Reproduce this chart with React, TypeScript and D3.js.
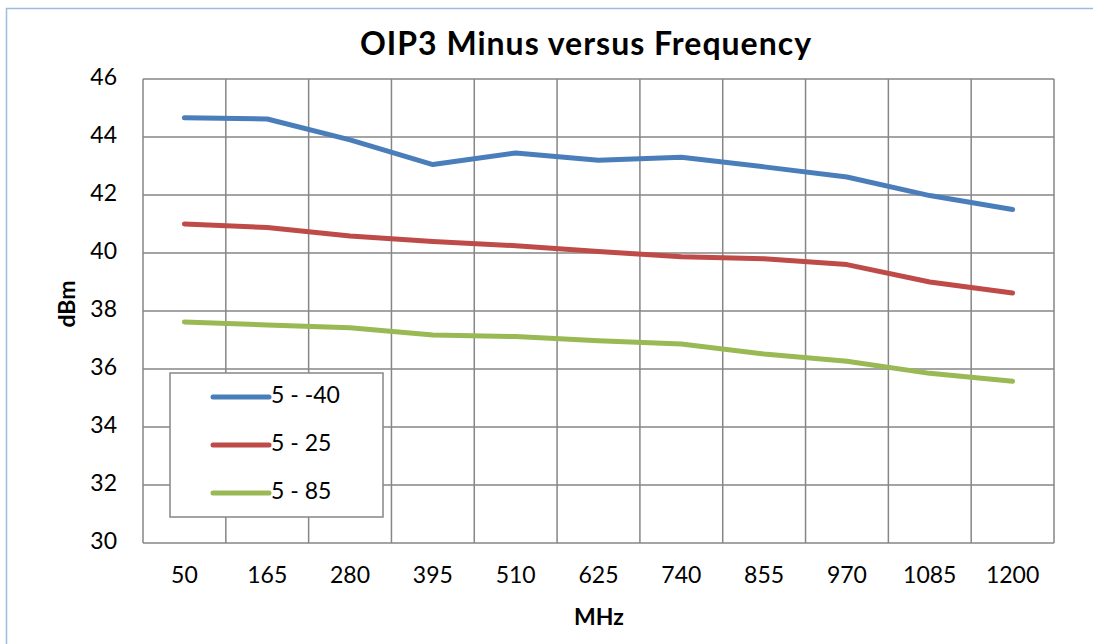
import { useRef, useEffect } from 'react'
import * as d3 from 'd3'

const categories = ['50', '165', '280', '395', '510', '625', '740', '855', '970', '1085', '1200']
const seriesNames = ['5 - -40', '5 - 25', '5 - 85']
const seriesColors = ['#4a7ebb', '#be4b48', '#98b954']
const blueValues = [44.66, 44.62, 43.9, 43.05, 43.45, 43.2, 43.3, 42.97, 42.62, 41.98, 41.5]
const redValues = [41.0, 40.88, 40.59, 40.4, 40.25, 40.05, 39.87, 39.8, 39.6, 39.0, 38.62]
const greenValues = [37.62, 37.52, 37.42, 37.17, 37.12, 36.97, 36.86, 36.52, 36.27, 35.85, 35.58]
const yTicks = [30, 32, 34, 36, 38, 40, 42, 44, 46]

const FONT = "Lato, 'Open Sans', sans-serif"

export default function App() {
  const svgRef = useRef<SVGSVGElement>(null)

  useEffect(() => {
    const svg = svgRef.current
    if (!svg) return
    const W = 1093
    const H = 644
    const margin = { top: 79, right: 39, bottom: 101, left: 143 }
    const iW = W - margin.left - margin.right
    const iH = H - margin.top - margin.bottom

    const sel = d3.select(svg)
    sel.selectAll('*').remove()
    sel.attr('width', W).attr('height', H)

    sel.append('rect').attr('width', W).attr('height', H).attr('fill', '#fff')
    // outer chart frame
    sel.append('rect')
      .attr('x', 6.5).attr('y', 8.5)
      .attr('width', W + 20).attr('height', H + 20)
      .attr('fill', 'none').attr('stroke', '#9dbde0').attr('stroke-width', 1.5)

    const g = sel.append('g').attr('transform', `translate(${margin.left},${margin.top})`)

    const x = d3.scaleBand().domain(categories).range([0, iW])
    const y = d3.scaleLinear().domain([30, 46]).range([iH, 0])

    // horizontal gridlines + y labels
    yTicks.forEach((t) => {
      g.append('line')
        .attr('x1', 0).attr('x2', iW)
        .attr('y1', y(t)).attr('y2', y(t))
        .attr('stroke', '#868686').attr('stroke-width', 1.5)
      g.append('text')
        .attr('x', -26).attr('y', y(t))
        .attr('text-anchor', 'end').attr('dominant-baseline', 'middle')
        .attr('font-family', FONT).attr('font-size', '23px').attr('fill', '#000')
        .text(t)
    })

    // vertical gridlines at category boundaries
    categories.forEach((c) => {
      g.append('line')
        .attr('x1', x(c)!).attr('x2', x(c)!)
        .attr('y1', 0).attr('y2', iH)
        .attr('stroke', '#868686').attr('stroke-width', 1.5)
      g.append('text')
        .attr('x', x(c)! + x.bandwidth() / 2).attr('y', iH + 34)
        .attr('text-anchor', 'middle').attr('dominant-baseline', 'middle')
        .attr('font-family', FONT).attr('font-size', '23px').attr('fill', '#000')
        .text(c)
    })
    g.append('line')
      .attr('x1', iW).attr('x2', iW).attr('y1', 0).attr('y2', iH)
      .attr('stroke', '#868686').attr('stroke-width', 1.5)

    const line = d3.line<number>()
      .x((_, i) => x(categories[i])! + x.bandwidth() / 2)
      .y((d) => y(d))

    ;[blueValues, redValues, greenValues].forEach((vals, i) => {
      g.append('path')
        .attr('d', line(vals))
        .attr('fill', 'none').attr('stroke', seriesColors[i])
        .attr('stroke-width', 5).attr('stroke-linejoin', 'round').attr('stroke-linecap', 'round')
    })

    // title
    sel.append('text')
      .attr('x', 586).attr('y', 55)
      .attr('text-anchor', 'middle')
      .attr('font-family', FONT).attr('font-weight', 'bold').attr('font-size', '32px')
      .attr('letter-spacing', '1px')
      .text('OIP3 Minus versus Frequency')

    // axis titles
    sel.append('text')
      .attr('transform', `translate(75,304) rotate(-90)`)
      .attr('text-anchor', 'middle')
      .attr('font-family', FONT).attr('font-weight', 'bold').attr('font-size', '23px')
      .text('dBm')
    sel.append('text')
      .attr('x', 599).attr('y', 625)
      .attr('text-anchor', 'middle')
      .attr('font-family', FONT).attr('font-weight', 'bold').attr('font-size', '23px')
      .text('MHz')

    // legend
    const lg = sel.append('g').attr('transform', 'translate(170,373)')
    lg.append('rect')
      .attr('width', 213).attr('height', 144)
      .attr('fill', '#fff').attr('stroke', '#868686').attr('stroke-width', 1.5)
    seriesNames.forEach((name, i) => {
      const ly = 24 + i * 48
      lg.append('line')
        .attr('x1', 43).attr('x2', 99).attr('y1', ly).attr('y2', ly)
        .attr('stroke', seriesColors[i]).attr('stroke-width', 5).attr('stroke-linecap', 'round')
      lg.append('text')
        .attr('x', 101).attr('y', ly)
        .attr('dominant-baseline', 'middle')
        .attr('font-family', FONT).attr('font-size', '23px')
        .text(name)
    })
  }, [])

  return (
    <div style={{ position: 'fixed', left: 0, top: 0, width: 1093, height: 644, overflow: 'hidden' }}>
      <svg ref={svgRef} style={{ display: 'block' }} />
    </div>
  )
}
